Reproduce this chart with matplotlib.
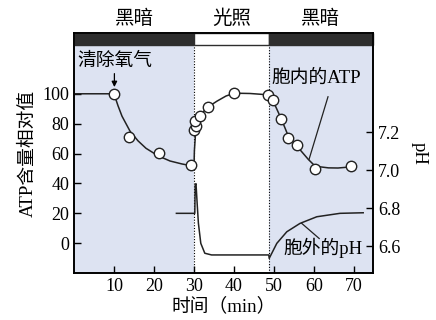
import numpy as np
import matplotlib
matplotlib.use('Agg')
import matplotlib.pyplot as plt
from matplotlib.patches import Rectangle

plt.rcParams['font.family'] = ['Liberation Serif', 'Noto Sans CJK SC']
plt.rcParams['font.size'] = 13

# ATP points (relative value)
atp_x = [10, 13.8, 21.2, 29.2, 30.0, 30.5, 30.2, 31.5, 33.6, 40.1, 48.5, 49.7, 51.8, 53.6, 55.8, 60.3, 69.3]
atp_y = [100, 71.3, 60.4, 52.0, 75.5, 78.2, 81.5, 84.9, 90.9, 100.6, 99.2, 96.0, 83.3, 70.4, 65.6, 49.8, 51.6]

# fitted ATP curves
fit1_x = [0, 10, 11, 12, 14, 16, 18, 21, 24, 27, 30]
fit1_y = [100, 100, 92, 85, 75, 68.5, 63.5, 58.5, 55, 53, 51.5]
fit2_x = [30, 30.1, 30.4, 31.0, 32.3, 34.0, 35.7, 38.0, 40.1, 44, 48.6]
fit2_y = [51.5, 62, 74, 81, 88, 92, 95, 98.5, 100.4, 100.2, 99.3]
fit3_x = [48.6, 50.2, 51.9, 53.6, 56.1, 58.6, 60.3, 63.6, 66, 69]
fit3_y = [98.2, 92.7, 82.7, 71.5, 63.8, 56.0, 51.5, 50.4, 50.3, 51.0]

# external pH trace
ph_x = [25.6, 30.2, 30.3, 30.5, 30.8, 31.1, 31.7, 32.7, 34.4, 48.7,
        48.8, 50.7, 53.2, 56.5, 60.7, 66.5, 72.3]
ph_y = [6.772, 6.772, 6.92, 6.928, 6.82, 6.72, 6.614, 6.562, 6.553, 6.553,
        6.535, 6.614, 6.675, 6.719, 6.754, 6.772, 6.775]

xticks = [10, 20, 30, 40, 50, 60, 70]
yticks = [0, 20, 40, 60, 80, 100]
phticks = [6.6, 6.8, 7.0, 7.2]

light_on = 30
light_off = 48.75
xmax = 74.75

shade = '#dde3f2'
ink = '#222222'

fig = plt.figure(figsize=(4.36, 3.2), dpi=100)
ax = fig.add_axes([74/436, 1-273/320, 299/436, 240/320])
ax.set_xlim(0, xmax)
ax.set_ylim(-20, 140.7)

ax.axvspan(0, light_on, color=shade, lw=0, zorder=0)
ax.axvspan(light_off, xmax, color=shade, lw=0, zorder=0)
ax.axvline(light_on, color='k', ls=(0, (1, 1.5)), lw=0.8, zorder=1)
ax.axvline(light_off, color='k', ls=(0, (1, 1.5)), lw=0.8, zorder=1)

# dark / light bar
ax.add_patch(Rectangle((0, 132.7), light_on, 8, facecolor='#2e2e2e', edgecolor='#2e2e2e', lw=1, zorder=3, clip_on=False))
ax.add_patch(Rectangle((light_on, 132.7), light_off - light_on, 8, facecolor='white', edgecolor='#2e2e2e', lw=1, zorder=3, clip_on=False))
ax.add_patch(Rectangle((light_off, 132.7), xmax - light_off, 8, facecolor='#2e2e2e', edgecolor='#2e2e2e', lw=1, zorder=3, clip_on=False))

tr = ax.get_xaxis_transform()
ax.text(15, 1.06, '黑暗', transform=tr, ha='center', va='center', fontsize=14)
ax.text(39.4, 1.06, '光照', transform=tr, ha='center', va='center', fontsize=14)
ax.text(61.7, 1.06, '黑暗', transform=tr, ha='center', va='center', fontsize=14)

for fx, fy in [(fit1_x, fit1_y), (fit2_x, fit2_y), (fit3_x, fit3_y)]:
    ax.plot(fx, fy, color=ink, lw=1.1, zorder=4)
ax.plot(atp_x, atp_y, 'o', ms=7.5, mfc='white', mec=ink, mew=1.0, zorder=5)

ax.set_xticks(xticks)
ax.set_yticks(yticks)
ax.tick_params(direction='in', length=5, width=1, labelsize=13)
ax.set_ylabel('ATP含量相对值', fontsize=13.5, labelpad=4)
ax.set_xlabel('时间（min）', fontsize=13.5, labelpad=2)
for s in ax.spines.values():
    s.set_linewidth(1.2)

ax2 = ax.twinx()
ax2.set_ylim(6.458, 7.721)
ax2.plot(ph_x, ph_y, color=ink, lw=1.1)
ax2.set_yticks(phticks)
ax2.set_yticklabels(['6.6', '6.8', '7.0', '7.2'])
ax2.tick_params(direction='in', length=5, width=1, labelsize=13)
ax2.set_ylabel('pH', rotation=270, fontsize=13.5, labelpad=20)
for s in ax2.spines.values():
    s.set_linewidth(1.2)

# annotations
ax.text(10.25, 121.5, '清除氧气', ha='center', va='center', fontsize=13.5)
ax.annotate('', xy=(10.1, 104.5), xytext=(10.1, 113.5),
            arrowprops=dict(arrowstyle='-|>', color='k', lw=0.9, mutation_scale=8,
                            shrinkA=0, shrinkB=0))
ax.text(60.5, 110.5, '胞内的ATP', ha='center', va='center', fontsize=13.5)
ax.plot([63.5, 58.75], [98, 56], color=ink, lw=0.9)
ax.text(62.3, -3.3, '胞外的pH', ha='center', va='center', fontsize=13.5)
ax.plot([61.3, 56.9], [3.1, 13.3], color=ink, lw=0.9)

fig.savefig('out.png', dpi=100)
